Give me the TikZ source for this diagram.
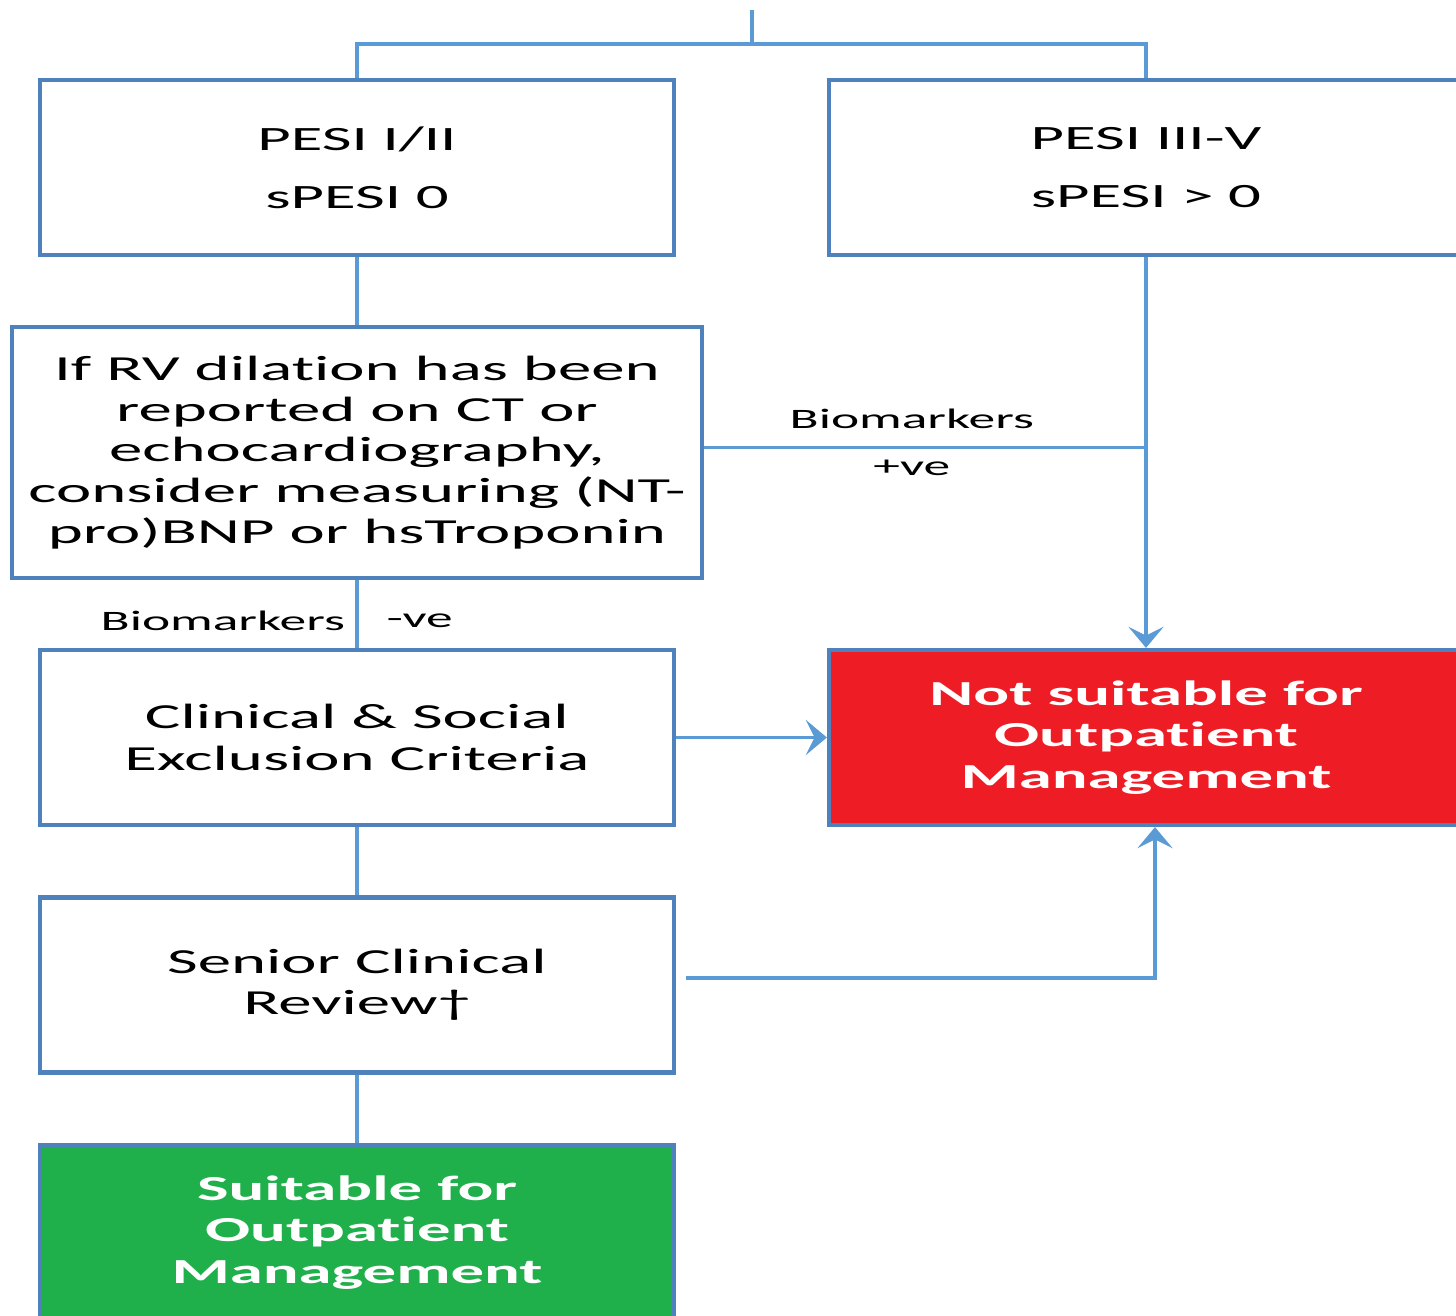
\documentclass[tikz,border=0pt]{standalone}
\usepackage{fontspec}
\setmainfont{Carlito}
\newfontfamily\widefont[FakeStretch=1.9,Ligatures=NoCommon]{Carlito}
\usetikzlibrary{arrows.meta}
\definecolor{boxblue}{HTML}{4F81BD}
\definecolor{lineblue}{HTML}{5B9BD5}
\definecolor{notred}{HTML}{EE1C25}
\definecolor{okgreen}{HTML}{1FAF4B}

\begin{document}
\begin{tikzpicture}[x=0.1mm,y=-0.1mm]
            \tikzstyle{every node}+=[inner sep=0pt, font=\widefont]
            \tikzstyle{box}=[draw=boxblue, line width=1.2pt, fill=white, align=center, minimum width=6.34cm, minimum height=1.75cm]
            \tikzstyle{link}=[draw=lineblue, line width=0.9pt]
            \tikzstyle{arrow}=[link, -{Stealth[length=6pt,width=10pt,inset=2.5pt]}]
            \tikzstyle{label}=[font=\widefont\fontsize{8}{9}\selectfont]
            \useasboundingbox (0,0) rectangle (1456,1316);
            \node [box, font=\widefont\fontsize{9.7}{16.4}\selectfont] (pesilow) at (357,167.5) {PESI I/II\\sPESI 0};
            \node [box, font=\widefont\fontsize{9.7}{16.4}\selectfont] (pesihigh) at (1146,167.5) {PESI III-V\\sPESI > 0};
            \node [box, minimum width=6.9cm, minimum height=2.51cm, font=\widefont\fontsize{10}{11.6}\selectfont] (rvcheck) at (357,452.5) {If RV dilation has been\\reported on CT or\\echocardiography,\\consider measuring (NT-\\pro)BNP or hsTroponin};
            \node [box, fill=notred, text=white, font=\widefont\bfseries\fontsize{10}{11.8}\selectfont] (notok) at (1146,737.5) {Not suitable for\\Outpatient\\Management};
            \node [box, font=\widefont\fontsize{10}{11.8}\selectfont] (exclusion) at (357,737.5) {Clinical \& Social\\Exclusion Criteria};
            \node [box, font=\widefont\fontsize{10}{11.8}\selectfont] (review) at (357,985) {Senior Clinical\\Review\textdagger};
            \node [box, fill=okgreen, text=white, font=\widefont\bfseries\fontsize{10}{11.8}\selectfont] (ok) at (357,1232.5) {Suitable for\\Outpatient\\Management};
            \coordinate (top) at (752,10);
            \coordinate (split) at (752,44);
            \draw [link] (top) -- (split);
            \draw [link] (split) -| (pesilow.north);
            \draw [link] (split) -| (pesihigh.north);
            \draw [link] (pesilow) -- (rvcheck);
            \draw [link] ([yshift=0.5mm]rvcheck.east) -- node [pos=0.47, above=5pt, label] {Biomarkers} node [pos=0.47, below=3pt, label] {+ve} ([yshift=0.5mm]rvcheck.east -| pesihigh.south);
            \draw [arrow] (pesihigh) -- (notok);
            \draw [link] (rvcheck) -- node [pos=0.6, left=3pt, label] {Biomarkers} node [pos=0.6, right=8pt, label] {-ve} (exclusion);
            \draw [arrow] (exclusion) -- (notok);
            \draw [link] (exclusion) -- (review);
            \draw [arrow] ([xshift=1mm,yshift=0.7mm]review.east) -| ([xshift=0.9mm]notok.south);
            \draw [link] (review) -- (ok);
        \end{tikzpicture}
\end{document}
